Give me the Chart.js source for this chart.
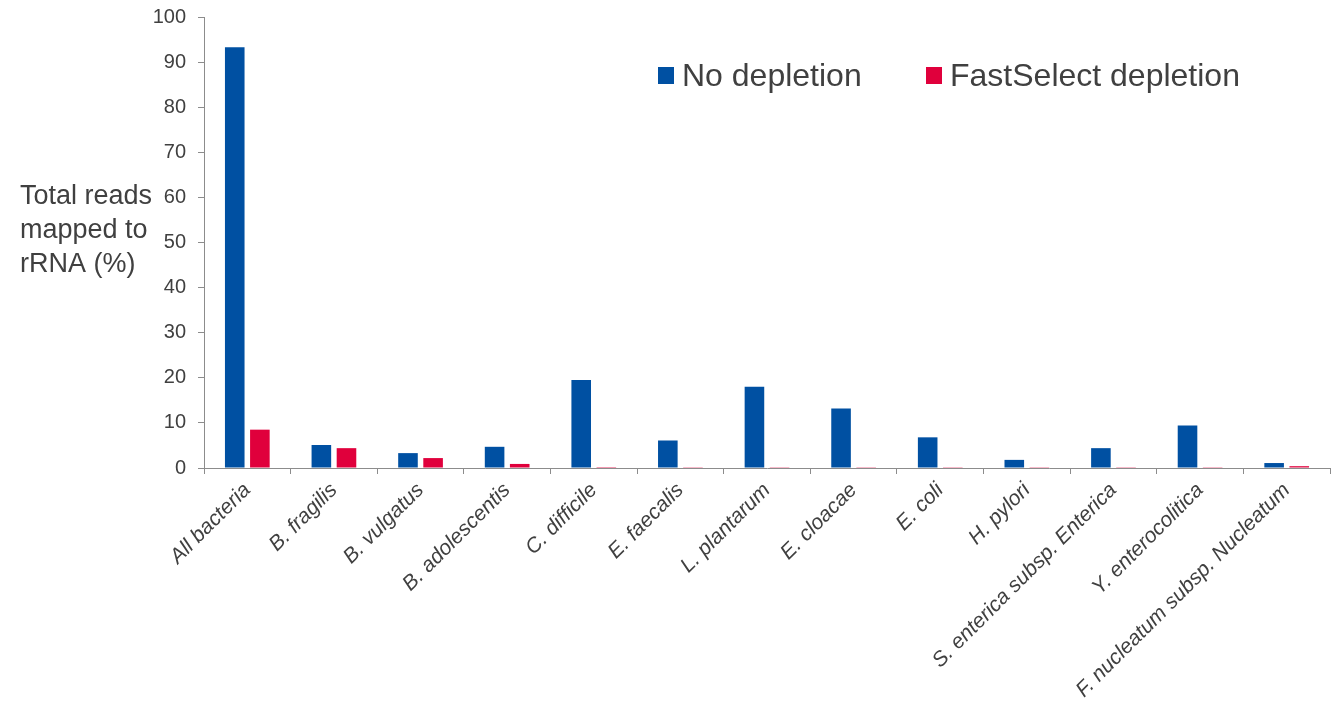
<!DOCTYPE html>
<html>
<head>
<meta charset="utf-8">
<title>rRNA reads</title>
<script src="https://cdn.jsdelivr.net/npm/chart.js@4"></script>
<style>
  html, body { margin: 0; padding: 0; background: #ffffff; }
  #wrap { width: 1340px; height: 706px; position: relative; }
</style>
</head>
<body>
<div id="wrap"><canvas id="chart" width="1340" height="706"></canvas></div>
<script>
// Percentage of total reads mapped to rRNA, per organism
const categories = [
  'All bacteria', 'B. fragilis', 'B. vulgatus', 'B. adolescentis', 'C. difficile',
  'E. faecalis', 'L. plantarum', 'E. cloacae', 'E. coli', 'H. pylori',
  'S. enterica subsp. Enterica', 'Y. enterocolitica', 'F. nucleatum subsp. Nucleatum'
];
const noDepletion = [93.3, 5.1, 3.3, 4.7, 19.5, 6.1, 18.0, 13.2, 6.8, 1.8, 4.4, 9.4, 1.1];
const fastSelect  = [8.5, 4.4, 2.2, 0.9, 0.2, 0.05, 0.05, 0.05, 0.05, 0.05, 0.05, 0.05, 0.4];
const yTicks = [0, 10, 20, 30, 40, 50, 60, 70, 80, 90, 100];
const seriesNames = ['No depletion', 'FastSelect depletion'];
const seriesColors = ['#0050a2', '#e0003c'];
const yTitleLines = ['Total reads', 'mapped to', 'rRNA (%)'];

const textColor = '#404040';
const axisColor = '#8c8c8c';
const fontFamily = 'Arial, "Liberation Sans", sans-serif';

// Horizontal axis title to the left of the value axis
const yTitlePlugin = {
  id: 'yTitle',
  afterDraw(chart) {
    const ctx = chart.ctx;
    ctx.save();
    ctx.fillStyle = textColor;
    ctx.font = '27px ' + fontFamily;
    ctx.textAlign = 'left';
    ctx.textBaseline = 'alphabetic';
    yTitleLines.forEach((line, i) => ctx.fillText(line, 20, 204 + i * 34));
    ctx.restore();
  }
};

// Legend drawn inside the plot area
const legendPlugin = {
  id: 'innerLegend',
  afterDraw(chart) {
    const ctx = chart.ctx;
    const starts = [658, 926];
    ctx.save();
    ctx.font = '32px ' + fontFamily;
    ctx.textBaseline = 'alphabetic';
    ctx.textAlign = 'left';
    chart.data.datasets.forEach((ds, i) => {
      const x = starts[i];
      ctx.fillStyle = ds.backgroundColor;
      ctx.fillRect(x, 67, 16, 17);
      ctx.fillStyle = textColor;
      ctx.fillText(ds.label, x + 24, 86);
    });
    ctx.restore();
  }
};

new Chart(document.getElementById('chart'), {
  type: 'bar',
  data: {
    labels: categories,
    datasets: [
      { label: seriesNames[0], data: noDepletion, backgroundColor: seriesColors[0],
        categoryPercentage: 0.58, barPercentage: 0.78 },
      { label: seriesNames[1], data: fastSelect, backgroundColor: seriesColors[1],
        categoryPercentage: 0.58, barPercentage: 0.78 }
    ]
  },
  options: {
    responsive: false,
    animation: false,
    layout: { padding: { top: 17, right: 10, left: 0, bottom: 0 } },
    plugins: {
      legend: { display: false },
      tooltip: { enabled: false }
    },
    scales: {
      x: {
        offset: true,
        grid: { display: true, drawOnChartArea: false, drawTicks: true, tickLength: 6,
                color: axisColor, offset: true },
        border: { display: true, color: axisColor, width: 1 },
        ticks: {
          color: textColor, autoSkip: false, maxRotation: 45, minRotation: 45, padding: 4,
          font: { family: fontFamily, size: 21, style: 'italic' }
        },
        afterFit(scale) {
          scale.height = 238;
          scale.paddingLeft = 0;
          scale.paddingRight = 0;
        }
      },
      y: {
        min: 0, max: 100,
        afterBuildTicks(scale) { scale.ticks = yTicks.map(v => ({ value: v })); },
        grid: { display: true, drawOnChartArea: false, drawTicks: true, tickLength: 6,
                color: axisColor },
        border: { display: true, color: axisColor, width: 1 },
        ticks: {
          color: textColor, padding: 12,
          font: { family: fontFamily, size: 20 }
        },
        afterFit(scale) {
          scale.width = 204;
          scale.paddingTop = 0;
          scale.paddingBottom = 0;
        }
      }
    }
  },
  plugins: [yTitlePlugin, legendPlugin]
});
</script>
</body>
</html>
